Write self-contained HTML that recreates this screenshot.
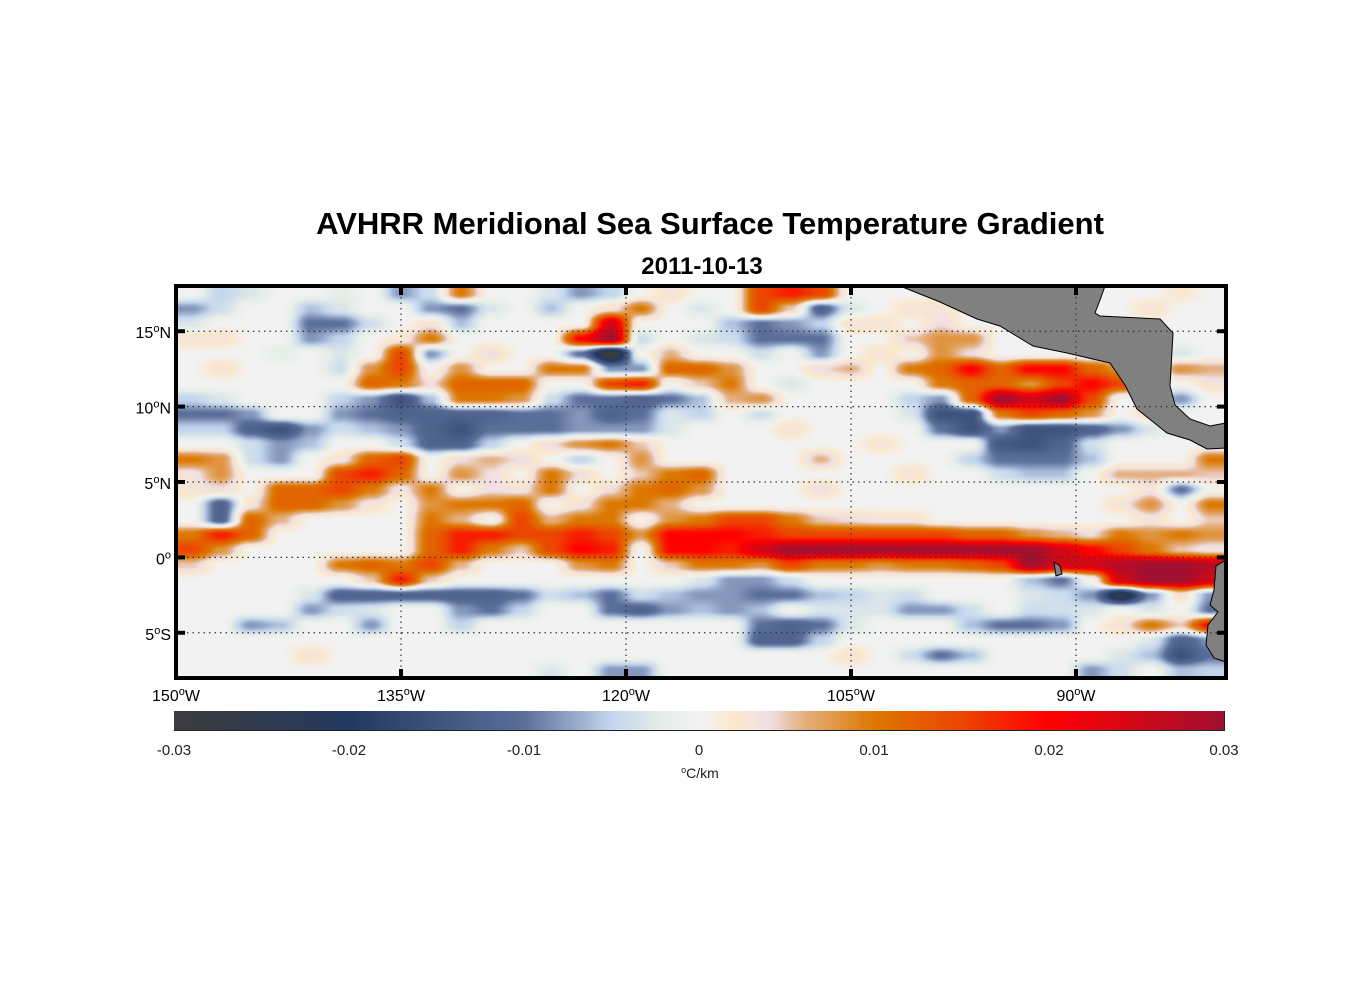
<!DOCTYPE html>
<html><head><meta charset="utf-8"><style>
body{margin:0;background:#fff;width:1356px;height:1000px;position:relative;overflow:hidden;font-family:"Liberation Sans",Arial,sans-serif}
.t{position:absolute;color:#000;white-space:nowrap}
</style></head><body>
<div class="t" style="left:0;width:1420px;text-align:center;top:206px;font-size:31px;font-weight:bold">AVHRR Meridional Sea Surface Temperature Gradient</div>
<div class="t" style="left:0;width:1404px;text-align:center;top:253px;font-size:24px;font-weight:bold">2011-10-13</div>
<canvas id="map" width="1050" height="392" style="position:absolute;left:176px;top:286px"></canvas>
<svg id="ov" width="1356" height="1000" style="position:absolute;left:0;top:0"></svg>
<canvas id="cb" width="1050" height="19" style="position:absolute;left:174px;top:711px"></canvas>
<script>
// grid: rows from 17.5N to 7.5S (1 deg), cols from 149W to 81W (2 deg); units 0.001 degC/km
const gridRows=[
[0,-5,-3,0,0,-2,0,-8,-4,10,0,0,-3,-8,-5,0,3,0,0,15,18,15,0,0,0,0,0,0,0,0,0,0,0,2,0],
[-8,-4,0,0,-6,-3,0,0,-8,-10,-3,0,-6,0,3,10,0,-3,0,15,5,-12,-3,0,3,3,0,0,0,0,0,0,3,0,0],
[-3,0,0,0,-10,-10,-4,0,3,-6,0,0,0,0,25,0,0,0,-6,-10,-8,-5,3,3,0,4,0,0,0,0,0,0,0,0,0],
[3,3,0,0,-8,-5,0,2,10,0,0,0,0,20,30,-4,0,-3,-4,-10,-10,-10,0,0,5,8,8,0,0,0,0,0,0,0,0],
[0,0,0,-2,0,-3,0,15,-8,0,4,0,0,-10,-30,0,6,0,0,-4,0,-8,0,3,0,8,4,0,0,0,0,0,0,-3,0],
[0,3,0,0,0,-4,8,15,0,8,0,0,10,10,-8,-8,12,12,8,0,0,4,6,0,10,12,20,12,20,20,12,8,0,8,6],
[0,0,0,0,0,0,12,10,4,12,12,12,0,0,15,18,0,5,10,0,-3,0,0,0,0,10,12,12,8,15,20,15,0,0,3],
[-5,-3,0,0,0,-5,-8,-15,-6,10,10,8,-4,-10,-10,-12,-10,-6,6,8,0,0,0,0,-5,-8,12,30,25,30,15,0,-3,-8,0],
[-10,-10,-8,0,0,-8,-10,-12,-12,-12,-12,-10,-10,-8,-12,-10,-3,-5,0,-4,0,0,0,0,-3,-15,-15,10,15,12,8,0,3,0,0],
[-5,-5,-12,-15,-8,-4,-6,-8,-12,-15,-10,-10,-10,-8,-8,-8,-3,0,0,0,3,0,0,0,0,-10,-15,-8,-15,-15,-12,-8,-3,0,0],
[0,0,-4,-8,-6,0,0,-4,-12,-12,-5,0,4,8,10,5,0,0,0,0,0,0,0,3,0,0,0,-14,-15,-12,-4,0,0,0,0],
[10,8,-4,-8,0,3,12,15,0,4,6,4,0,-5,0,8,0,0,0,0,0,6,0,0,0,0,-5,-10,-10,-10,-6,0,0,0,10],
[3,8,0,0,0,15,18,12,0,8,4,0,10,4,0,5,10,12,0,0,0,0,0,0,3,0,0,-4,-6,-6,0,6,6,6,5],
[3,4,0,12,12,15,10,3,10,0,4,3,10,0,4,10,12,8,0,0,0,4,0,0,0,0,0,0,0,0,0,0,3,-10,0],
[0,-12,3,12,12,8,3,0,8,10,10,12,0,3,10,10,6,0,0,0,0,0,0,0,0,0,0,0,0,0,0,3,8,0,10],
[0,-12,12,6,0,0,0,0,10,6,0,15,6,10,10,0,8,10,15,15,10,5,4,3,3,0,0,0,0,0,0,0,3,0,5],
[10,18,12,0,0,0,0,0,12,18,18,15,15,18,15,8,20,20,20,18,15,15,15,15,15,15,12,12,8,6,4,10,8,10,8],
[15,8,0,0,0,0,0,0,12,18,10,5,15,20,18,0,20,20,18,25,30,30,30,30,30,30,30,30,30,25,20,15,10,5,3],
[5,0,0,0,0,10,12,10,15,6,0,0,0,8,10,0,5,10,10,8,15,10,10,8,10,10,12,15,30,25,25,28,30,30,28],
[0,0,0,0,0,0,5,18,5,0,0,0,0,0,0,0,0,-3,-8,-8,-4,0,0,0,0,0,0,0,-6,-10,0,25,30,30,25],
[0,0,0,0,-3,-12,-12,-12,-12,-12,-12,-10,-4,-6,-10,-4,-6,-8,-8,-10,-10,-6,-5,-3,-4,0,0,0,-3,-4,-8,-25,-8,3,-8],
[0,0,0,0,-8,-4,-3,0,0,-8,-10,-5,0,0,-10,-12,-8,-6,-8,-6,0,-3,-3,-3,-8,-8,-4,0,-4,-4,-3,0,-3,0,-10],
[0,0,-8,-6,0,0,-8,0,0,-5,0,0,0,0,0,0,0,0,0,-10,-12,-10,-3,0,0,0,-6,-10,-10,-8,0,3,10,5,20],
[0,0,0,0,0,0,0,0,0,0,0,0,0,0,0,0,0,0,0,-12,-12,-5,0,0,0,0,0,0,0,0,0,0,-3,-12,-8],
[0,0,0,0,3,0,0,0,0,0,0,0,0,0,0,0,0,0,0,0,0,0,3,0,-4,-10,-6,0,0,0,0,-3,-6,-15,-10],
[0,0,0,0,0,0,0,0,0,0,0,0,-3,0,-8,-8,0,0,0,0,0,0,0,0,0,0,0,0,0,0,-8,-4,0,-6,-5]
];
const latTicks=[15,10,5,0,-5];
const latLabels=["15","10","5","0","5"];
const latSuffix=["N","N","N","",'S'];
const lonTicks=[-150,-135,-120,-105,-90];
const lonLabels=["150","135","120","105","90"];
const cbTicks=[-0.03,-0.02,-0.01,0,0.01,0.02,0.03];
const cbLabels=["-0.03","-0.02","-0.01","0","0.01","0.02","0.03"];

const L=176,T=286,W=1050,H=392;
const lon0=-150,lon1=-80,lat0=18,lat1=-8;
function xs(lon){return L+(lon-lon0)/(lon1-lon0)*W;}
function ys(lat){return T+(lat-lat0)/(lat1-lat0)*H;}
const stops=[[-30,[60,60,60]],[-20,[35,56,96]],[-10,[90,110,154]],[-5,[196,214,238]],[-2,[230,238,232]],[0,[242,242,242]],[2,[250,232,205]],[4,[240,224,228]],[6,[228,176,128]],[10,[220,120,0]],[15,[236,70,0]],[20,[255,0,0]],[30,[160,16,48]]];
function cmap(v){if(v<=-30)return stops[0][1];if(v>=30)return stops[stops.length-1][1];
for(let i=0;i<stops.length-1;i++){const a=stops[i],b=stops[i+1];if(v>=a[0]&&v<=b[0]){const t=(v-a[0])/(b[0]-a[0]);return [0,1,2].map(k=>a[1][k]+(b[1][k]-a[1][k])*t);}}return [242,242,242];}
const nr=gridRows.length,nc=gridRows[0].length;
function g(r,c){r=Math.max(0,Math.min(nr-1,r));c=Math.max(0,Math.min(nc-1,c));return gridRows[r][c];}
(function(){
const cv=document.getElementById('map'),ctx=cv.getContext('2d');const img=ctx.createImageData(W,H);
for(let py=0;py<H;py++){const lat=lat0+(py+0.5)/H*(lat1-lat0);const fr=(lat0-0.5-lat);const r0=Math.floor(fr),tr=fr-r0;
for(let px=0;px<W;px++){const lon=lon0+(px+0.5)/W*(lon1-lon0);const fc=(lon-(lon0+1))/2;const c0=Math.floor(fc),tc=fc-c0;
const sr=tr*tr*(3-2*tr),sc=tc*tc*(3-2*tc);
const v=(g(r0,c0)*(1-sc)+g(r0,c0+1)*sc)*(1-sr)+(g(r0+1,c0)*(1-sc)+g(r0+1,c0+1)*sc)*sr;
const col=cmap(v);const i=(py*W+px)*4;img.data[i]=col[0];img.data[i+1]=col[1];img.data[i+2]=col[2];img.data[i+3]=255;}}
ctx.putImageData(img,0,0);
const cb=document.getElementById('cb'),c2=cb.getContext('2d');
for(let x=0;x<1050;x++){const v=-30+(x+0.5)/1050*60;const col=cmap(v);c2.fillStyle='rgb('+col.map(Math.round).join(',')+')';c2.fillRect(x,0,1,19);}
})();
const NS='http://www.w3.org/2000/svg';const ov=document.getElementById('ov');
function el(tag,attrs,parent){const e=document.createElementNS(NS,tag);for(const k in attrs)e.setAttribute(k,attrs[k]);(parent||ov).appendChild(e);return e;}
// land
const land1=el('polygon',{points:"900,286 940,302 977,319 1000,326 1033,346 1067,353 1110,363 1125,385 1137,409 1167,433 1190,440 1207,449 1226,448 1226,423 1210,426 1190,419 1175,405 1170,386 1173,333 1160,319 1100,316 1095,313 1100,300 1105,286",fill:'#808080',stroke:'#000','stroke-width':1});


const land2=el('polygon',{points:"1226,560 1216,566 1214,590 1210,605 1218,612 1208,625 1206,645 1214,658 1226,662",fill:'#808080',stroke:'#000','stroke-width':1});


const land3=el('polygon',{points:"1054,562 1060,566 1062,574 1056,576 1055,569",fill:'#808080',stroke:'#000','stroke-width':1});


// grid
latTicks.forEach((lat,i)=>{const y=ys(lat);
const gl=el('line',{x1:L,x2:L+W,y1:y,y2:y,stroke:'#333','stroke-width':1.2,'stroke-dasharray':'1.5,4'});

const t1=el('line',{x1:L,x2:L+9,y1:y,y2:y,stroke:'#000','stroke-width':4});

const t2=el('line',{x1:L+W-9,x2:L+W,y1:y,y2:y,stroke:'#000','stroke-width':4});

const tx=el('text',{x:L-5,y:y+7,'text-anchor':'end','font-size':16,'font-family':'Liberation Sans, sans-serif'});

tx.innerHTML=latLabels[i]+'<tspan dy="-6" font-size="11">o</tspan><tspan dy="6">'+latSuffix[i]+'</tspan>';});
lonTicks.forEach((lon,i)=>{const x=xs(lon);
if(i>0){const gl=el('line',{x1:x,x2:x,y1:T,y2:T+H,stroke:'#333','stroke-width':1.2,'stroke-dasharray':'1.5,4'});

const t1=el('line',{x1:x,x2:x,y1:T,y2:T+9,stroke:'#000','stroke-width':4});

const t2=el('line',{x1:x,x2:x,y1:T+H-9,y2:T+H,stroke:'#000','stroke-width':4});
}
const tx=el('text',{x:x,y:T+H+23,'text-anchor':'middle','font-size':16,'font-family':'Liberation Sans, sans-serif'});

tx.innerHTML=lonLabels[i]+'<tspan dy="-6" font-size="11">o</tspan><tspan dy="6">W</tspan>';});
const fr=el('rect',{x:L,y:T,width:W,height:H,fill:'none',stroke:'#000','stroke-width':4});

// colorbar
const cbr=el('rect',{x:174.5,y:711.5,width:1050,height:19,fill:'none',stroke:'#222','stroke-width':1});

cbTicks.forEach((v,i)=>{const x=174+(v+0.03)/0.06*1050;
if(i>0&&i<cbTicks.length-1){const tk=el('line',{x1:x,x2:x,y1:720,y2:730,stroke:'#222','stroke-width':1});
}
const tx=el('text',{x:x,y:755,'text-anchor':'middle','font-size':15,fill:'#222','font-family':'Liberation Sans, sans-serif'});

tx.textContent=cbLabels[i];});
const un=el('text',{x:700,y:778,'text-anchor':'middle','font-size':14,fill:'#222','font-family':'Liberation Sans, sans-serif'});

un.innerHTML='<tspan dy="-5" font-size="9">o</tspan><tspan dy="5">C/km</tspan>';
</script>
</body></html>
